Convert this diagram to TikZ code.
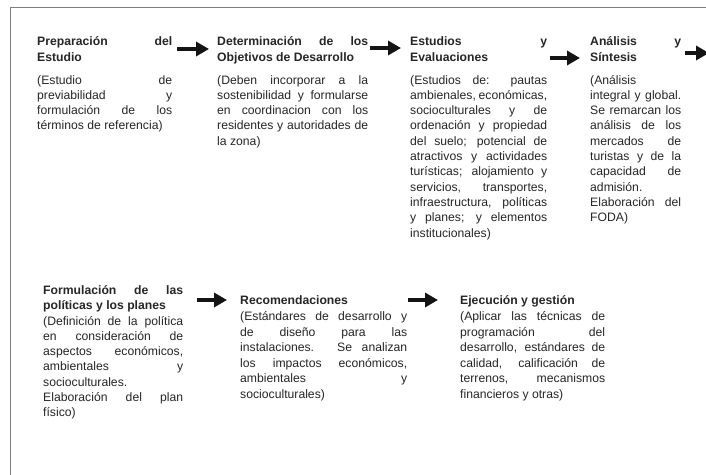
\documentclass[tikz,border=0pt]{standalone}
\usepackage{fontspec}
\setmainfont{Liberation Sans}
\usetikzlibrary{arrows.meta}
\newcommand\myj[1]{\hbox to\hsize{#1}}
\newcommand\myl[1]{\hbox to\hsize{#1\hfil}}
\newcommand\myblock[3]{\vtop{\hsize=#1\relax\baselineskip=#2\relax\lineskiplimit=-20pt\relax\lineskip=0pt\relax #3}}
\definecolor{txt}{HTML}{262626}
\definecolor{framec}{HTML}{808080}
\tikzset{
  flow/.style={line width=4.3pt, draw=black!92, -{Triangle[length=13pt,width=14pt]}},
  ttl/.style={anchor=base west, inner sep=0pt, text=txt, font=\fontsize{12.2}{15.3}\selectfont\bfseries},
  bdy/.style={anchor=base west, inner sep=0pt, text=txt, font=\fontsize{12.2}{15.3}\selectfont},
}
\begin{document}
\begin{tikzpicture}[x=1pt,y=-1pt]
\useasboundingbox (0,0) rectangle (706,474);
\clip (0,0) rectangle (706,474);
\fill[white] (0,0) rectangle (706,474);
% frame
\draw[framec, line width=1pt] (10.5,480) -- (10.5,7) -- (712,7);

% ---------- row 1 ----------
\node[ttl] (t1) at (37,45.5) {\myblock{135pt}{15.5pt}{%
  \myj{Preparación del}
  \myl{Estudio}}};
\node[bdy] (b1) at (37,84) {\myblock{135pt}{15.3pt}{%
  \myj{(Estudio de}
  \myj{previabilidad y}
  \myj{formulación de los}
  \myl{términos de referencia)}}};

\node[ttl] (t2) at (217,45.5) {\myblock{151pt}{15.5pt}{%
  \myj{Determinación de los}
  \myl{Objetivos de Desarrollo}}};
\node[bdy] (b2) at (217,84) {\myblock{151pt}{15.3pt}{%
  \myj{(Deben incorporar a la}
  \myj{sostenibilidad y formularse}
  \myj{en coordinacion con los}
  \myj{residentes y autoridades de}
  \myl{la zona)}}};

\node[ttl] (t3) at (410,45.5) {\myblock{137pt}{15.5pt}{%
  \myj{Estudios y}
  \myl{Evaluaciones}}};
\node[bdy] (b3) at (410,84) {\myblock{137pt}{15.3pt}{%
  \myj{(Estudios de: pautas}
  \myj{ambienales, económicas,}
  \myj{socioculturales y de}
  \myj{ordenación y propiedad}
  \myj{del suelo; potencial de}
  \myj{atractivos y actividades}
  \myj{turísticas; alojamiento y}
  \myj{servicios, transportes,}
  \myj{infraestructura, políticas}
  \myj{y planes; y elementos}
  \myl{institucionales)}}};

\node[ttl] (t4) at (590,45.5) {\myblock{91pt}{15.5pt}{%
  \myj{Análisis y}
  \myl{Síntesis}}};
\node[bdy] (b4) at (590,84) {\myblock{91pt}{15.3pt}{%
  \myl{(Análisis}
  \myj{integral y global.}
  \myj{Se remarcan los}
  \myj{análisis de los}
  \myj{mercados de}
  \myj{turistas y de la}
  \myj{capacidad de}
  \myl{admisión.}
  \myj{Elaboración del}
  \myl{FODA)}}};

% ---------- row 2 ----------
\node[ttl] (t5) at (43,294) {\myblock{140pt}{15.5pt}{%
  \myj{Formulación de las}
  \myl{políticas y los planes}}};
\node[bdy] (b5) at (43,325) {\myblock{140pt}{15.3pt}{%
  \myj{(Definición de la política}
  \myj{en consideración de}
  \myj{aspectos económicos,}
  \myj{ambientales y}
  \myl{socioculturales.}
  \myj{Elaboración del plan}
  \myl{físico)}}};

\node[ttl] (t6) at (240,304.5) {\myblock{167pt}{15.5pt}{%
  \myl{Recomendaciones}}};
\node[bdy] (b6) at (240,320.5) {\myblock{167pt}{15.5pt}{%
  \myj{(Estándares de desarrollo y}
  \myj{de diseño para las}
  \myj{instalaciones. Se analizan}
  \myj{los impactos económicos,}
  \myj{ambientales y}
  \myl{socioculturales)}}};

\node[ttl] (t7) at (460,304.5) {\myblock{145pt}{15.5pt}{%
  \myl{Ejecución y gestión}}};
\node[bdy] (b7) at (460,320.5) {\myblock{145pt}{15.6pt}{%
  \myj{(Aplicar las técnicas de}
  \myj{programación del}
  \myj{desarrollo, estándares de}
  \myj{calidad, calificación de}
  \myj{terrenos, mecanismos}
  \myl{financieros y otras)}}};

% ---------- arrows ----------
\coordinate (a1s) at (177,49);  \coordinate (a1e) at (209,49);
\coordinate (a2s) at (370,48);  \coordinate (a2e) at (401,48);
\coordinate (a3s) at (550,58);  \coordinate (a3e) at (580,58);
\coordinate (a4s) at (685,53);  \coordinate (a4e) at (709,53);
\coordinate (a5s) at (197,300); \coordinate (a5e) at (227,300);
\coordinate (a6s) at (408,300); \coordinate (a6e) at (438,300);
\draw[flow] (a1s) -- (a1e);
\draw[flow] (a2s) -- (a2e);
\draw[flow] (a3s) -- (a3e);
\draw[flow] (a4s) -- (a4e);
\draw[flow] (a5s) -- (a5e);
\draw[flow] (a6s) -- (a6e);
\end{tikzpicture}
\end{document}
